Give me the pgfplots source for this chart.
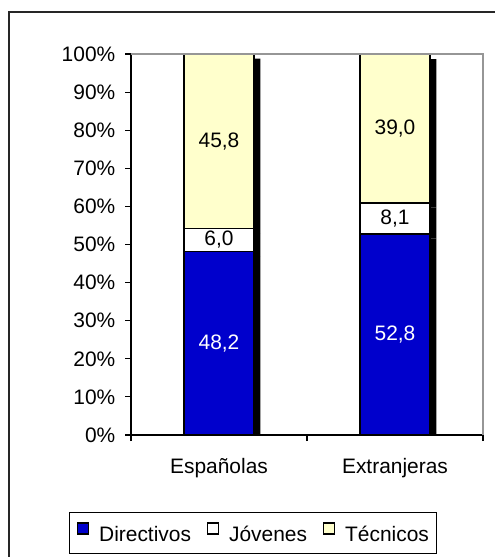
\documentclass[border=0pt]{standalone}
\usepackage{pgfplots}
\pgfplotsset{compat=1.18}
\usepackage{fontspec}
\setmainfont{Liberation Sans}
\definecolor{dirblue}{RGB}{0,0,204}
\definecolor{tecyel}{RGB}{255,255,204}
\definecolor{spine}{RGB}{150,150,150}
\newcommand{\cf}{\fontsize{15.7}{18}\selectfont}
\begin{document}
\begin{tikzpicture}
\path[use as bounding box] (0pt,0pt) rectangle (371.25pt,417.75pt);
\draw[line width=1pt, black!85] (6.75pt,-2pt) -- (6.75pt,408.75pt) -- (373pt,408.75pt);
\pgfplotsset{base/.style={
  at={(98.25pt,91.5pt)}, anchor=south west, scale only axis,
  width=264pt, height=285.75pt,
  xmin=-0.5, xmax=1.5, ymin=0, ymax=100,
  ybar stacked, bar width=52.5pt,
}}
% shadows
\begin{axis}[base, hide axis]
\addplot[fill=black, draw=none, xshift=4.8pt, yshift=-3.5pt] coordinates {(0,48.2) (1,52.8)};
\addplot[fill=black, draw=none, xshift=4.8pt, yshift=-3.5pt] coordinates {(0,6.0) (1,8.1)};
\addplot[fill=black, draw=none, xshift=4.8pt, yshift=-3.5pt] coordinates {(0,45.8) (1,39.0)};
\end{axis}
% main
\begin{axis}[base,
  clip mode=individual,
  axis x line*=bottom, axis y line*=left,
  axis line style={line width=1pt, black},
  tick align=outside, major tick length=4.5pt, tick style={black, line width=0.8pt},
  ytick={0,10,...,100},
  yticklabels={0\%,10\%,20\%,30\%,40\%,50\%,60\%,70\%,80\%,90\%,100\%},
  yticklabel style={xshift=-3.75pt},
  xtick={-0.5,0.5,1.5}, xticklabels={},
  extra x ticks={0,1}, extra x tick labels={Españolas,Extranjeras},
  extra x tick style={major tick length=0pt, tick label style={yshift=-13.75pt}},
  tick label style={font=\cf},
  every axis plot/.append style={draw=black, line width=1.1pt},
  legend style={at={(0.3466,-0.2572)}, anchor=center, draw=black, line width=0.8pt, font=\cf,
    legend columns=-1, nodes={inner sep=0pt},
    /tikz/every odd column/.append style={column sep=7.5pt},
    /tikz/every even column/.append style={column sep=12pt},
    inner xsep=6pt, inner ysep=7.5pt},
  legend image code/.code={\draw[#1, line width=0.8pt, draw=black] (0pt,0.6pt) rectangle (8.25pt,8.85pt);},
]
\draw[spine, line width=1pt] (rel axis cs:0,1) -- (rel axis cs:1,1) -- (rel axis cs:1,0);
\addplot[fill=dirblue] coordinates {(0,48.2) (1,52.8)};
\addplot[fill=white] coordinates {(0,6.0) (1,8.1)};
\addplot[fill=tecyel] coordinates {(0,45.8) (1,39.0)};
\legend{Directivos,Jóvenes,Técnicos}
\coordinate (l1) at (axis cs:0,24.1);
\coordinate (l2) at (axis cs:0,51.2);
\coordinate (l3) at (axis cs:0,77.1);
\coordinate (l4) at (axis cs:1,26.4);
\coordinate (l5) at (axis cs:1,56.85);
\coordinate (l6) at (axis cs:1,80.45);
\end{axis}
\node[font=\cf, text=white] at (l1) {48,2};
\node[font=\cf] at (l2) {6,0};
\node[font=\cf] at (l3) {45,8};
\node[font=\cf, text=white] at (l4) {52,8};
\node[font=\cf] at (l5) {8,1};
\node[font=\cf] at (l6) {39,0};
\end{tikzpicture}
\end{document}
